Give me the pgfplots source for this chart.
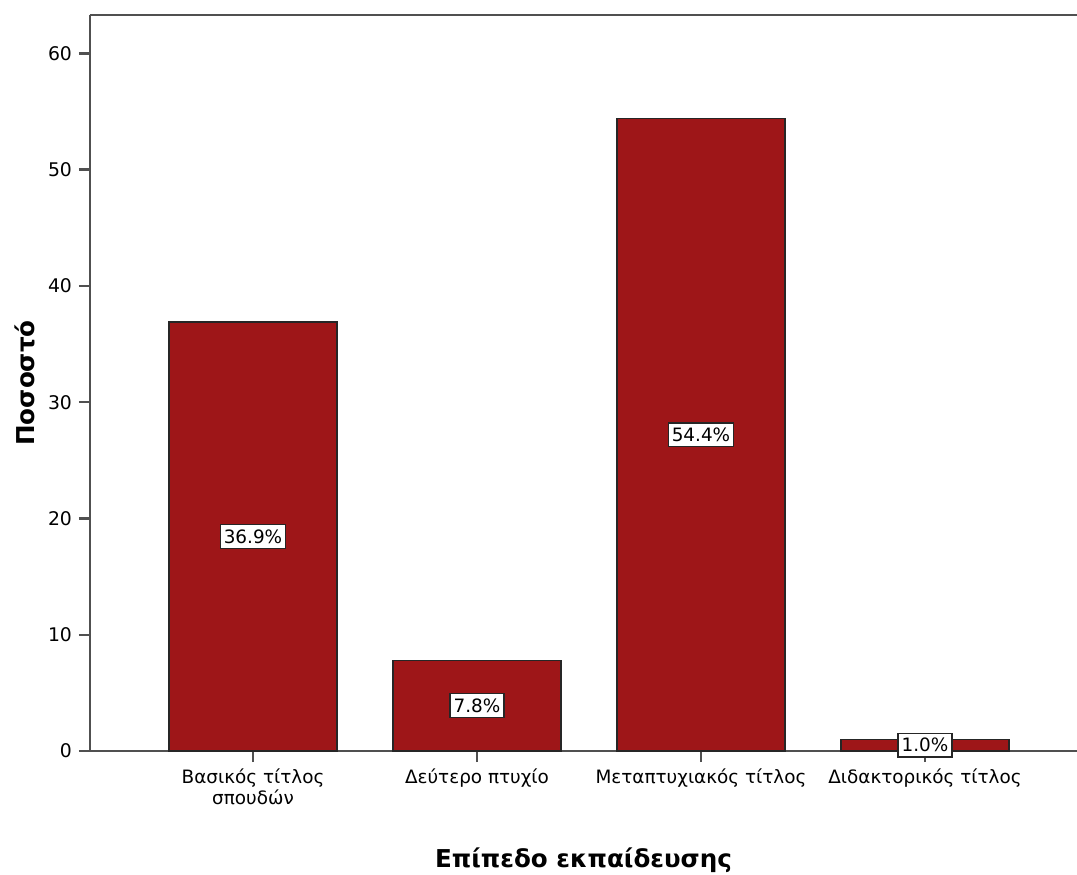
\documentclass[border=0pt]{standalone}
\usepackage{fontspec}
\setmainfont{DejaVu Sans}
\usepackage{pgfplots}
\usepackage{pgfplotstable}
\pgfplotsset{compat=1.18}

\definecolor{barred}{HTML}{9E1618}
\definecolor{axisgray}{HTML}{505050}

% Percentage per education level
\pgfplotstableread{
x y
0 36.9
1 7.8
2 54.4
3 1.0
}\levels

\begin{document}
\begin{tikzpicture}
\useasboundingbox (0,0) rectangle (538.5pt,437pt);
\begin{axis}[
  at={(45pt,61.5pt)}, anchor=south west,
  scale only axis, width=493.5pt, height=368pt,
  xmin=-0.7277, xmax=3.6786, ymin=0, ymax=63.3,
  axis x line=bottom, axis y line=left,
  axis line style={-, axisgray, line width=1.2pt},
  tick align=outside, major tick length=5.5pt,
  tick style={axisgray, line width=1.2pt},
  xtick={0,1,2,3},
  xticklabels={{Βασικός τίτλος\\σπουδών}, Δεύτερο πτυχίο, Μεταπτυχιακός τίτλος, Διδακτορικός τίτλος},
  xticklabel style={align=center, font=\fontsize{9.2}{9}\selectfont},
  ytick={0,10,...,60},
  yticklabel style={font=\fontsize{9.4}{10}\selectfont},
  /pgf/number format/assume math mode=true,
  xlabel={Επίπεδο εκπαίδευσης},
  ylabel={Ποσοστό},
  xlabel style={font=\bfseries\fontsize{12.3}{14}\selectfont, at={(axis description cs:0.5,-0.148)}, anchor=center},
  ylabel style={font=\bfseries\fontsize{12.3}{14}\selectfont, at={(axis description cs:-0.0659,0.5)}, anchor=center},
  clip=false,
]
\addplot[ybar, bar shift=0pt, bar width=0.75, fill=barred, draw=black!85, line width=0.7pt]
  table[x=x, y=y] {\levels};
% value labels at half bar height
\addplot[draw=none, mark=none, point meta=explicit,
  nodes near coords={\pgfmathprintnumber[fixed,fixed zerofill,precision=1]{\pgfplotspointmeta}\%},
  every node near coord/.append style={anchor=center, fill=white, draw=black!85, line width=0.6pt,
    inner xsep=1.8pt, inner ysep=2.4pt, font=\fontsize{9.2}{10}\selectfont}]
  table[x=x, y expr=\thisrow{y}/2, meta=y] {\levels};
\draw[axisgray, line width=1.2pt] (rel axis cs:0,1) -- (rel axis cs:1,1);
\end{axis}
\end{tikzpicture}
\end{document}
